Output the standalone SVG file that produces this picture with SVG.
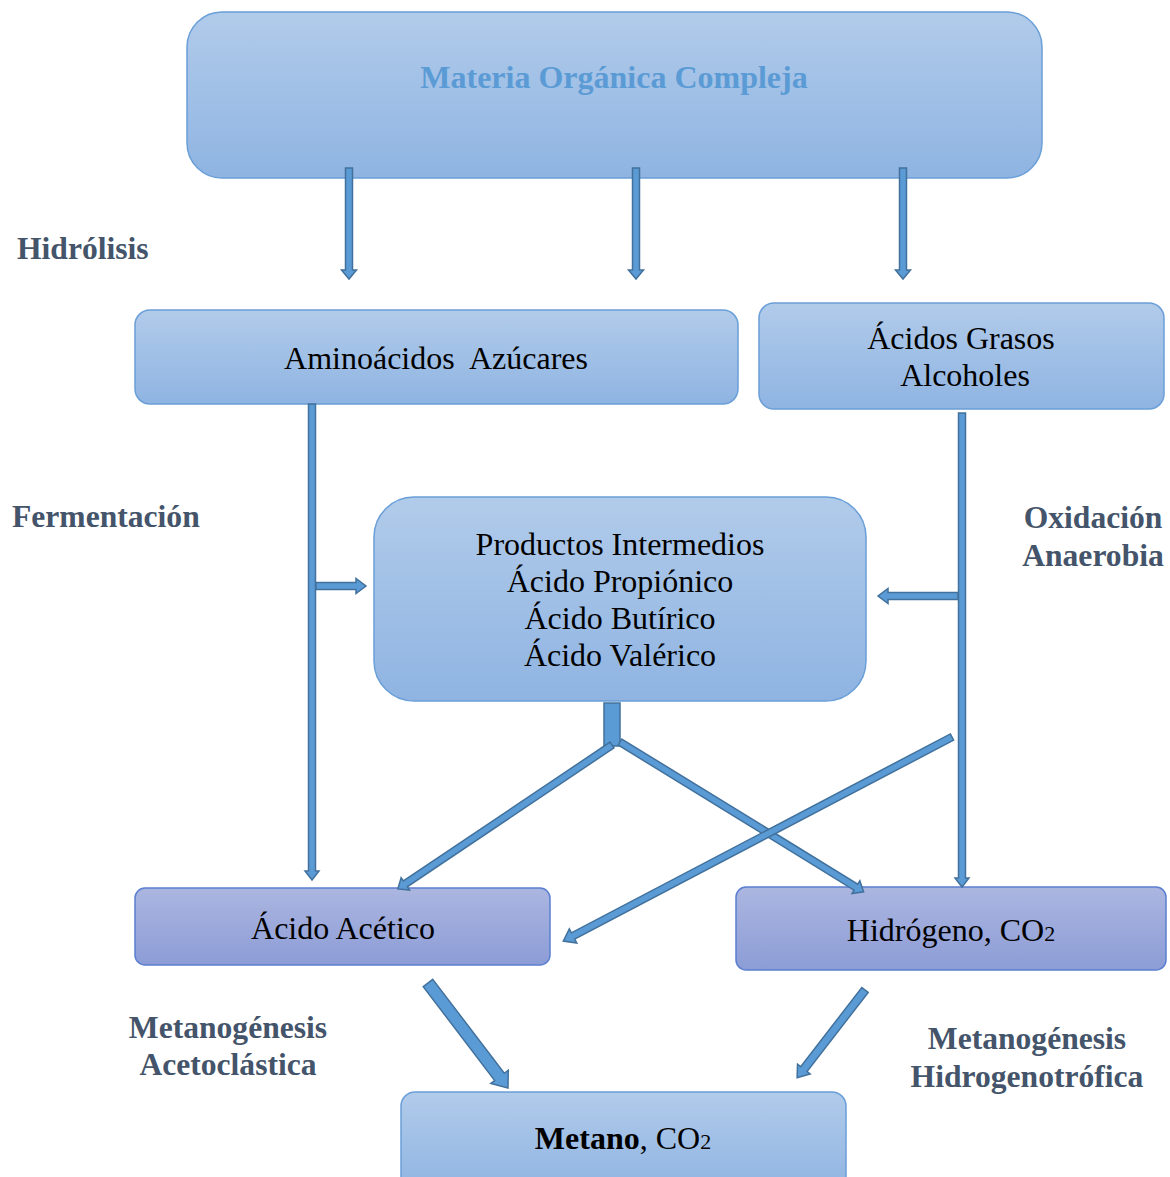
<svg xmlns="http://www.w3.org/2000/svg" width="1170" height="1177" viewBox="0 0 1170 1177">
<defs>
<linearGradient id="gb" x1="0" y1="0" x2="0" y2="1"><stop offset="0" stop-color="#B1CBEA"/><stop offset="1" stop-color="#8FB4E2"/></linearGradient>
<linearGradient id="gp" x1="0" y1="0" x2="0" y2="1"><stop offset="0" stop-color="#ABB6E0"/><stop offset="1" stop-color="#8C9CD6"/></linearGradient>
</defs>
<style>
.bx{fill:url(#gb);stroke:#6A9FD8;stroke-width:1.5}
.bp{fill:url(#gp);stroke:#5B7FD0;stroke-width:1.5}
.ar{fill:#5B9BD5;stroke:#41719C;stroke-width:1.5;stroke-linejoin:miter}
.t{font-family:"Liberation Serif",serif;font-size:32px;fill:#000;text-anchor:middle}
.lb{font-family:"Liberation Serif",serif;font-size:31.6px;font-weight:bold;fill:#44546A}
.lbc{font-family:"Liberation Serif",serif;font-size:31.6px;font-weight:bold;fill:#44546A;text-anchor:middle}
</style>
<g id="node-materia"><rect class="bx" x="187" y="12" width="855" height="166" rx="35"/>
<text x="614" y="88" style="font-family:'Liberation Serif',serif;font-size:32px;font-weight:bold;fill:#5B9BD5;text-anchor:middle">Materia Orgánica Compleja</text></g>
<g id="node-amino"><rect class="bx" x="135" y="310" width="603" height="94" rx="15"/>
<text class="t" x="436" y="369" xml:space="preserve">Aminoácidos  Azúcares</text></g>
<g id="node-acidos"><rect class="bx" x="759" y="303" width="405" height="106" rx="15"/>
<text class="t" x="961" y="349">Ácidos Grasos</text><text class="t" x="965" y="386">Alcoholes</text></g>
<g id="node-productos"><rect class="bx" x="374" y="497" width="492" height="204" rx="40"/>
<text class="t" x="620" y="555">Productos Intermedios</text>
<text class="t" x="620" y="592">Ácido Propiónico</text>
<text class="t" x="620" y="629">Ácido Butírico</text>
<text class="t" x="620" y="666">Ácido Valérico</text></g>
<g id="node-acetico"><rect class="bp" x="135" y="888" width="415" height="77" rx="10"/>
<text class="t" x="343" y="939">Ácido Acético</text></g>
<g id="node-hidrogeno"><rect class="bp" x="736" y="887" width="430" height="83" rx="10"/>
<text class="t" x="951" y="941">Hidrógeno, CO<tspan font-size="22">2</tspan></text></g>
<g id="node-metano"><rect class="bx" x="401" y="1092" width="445" height="100" rx="14"/>
<text class="t" x="623" y="1149"><tspan font-weight="bold">Metano</tspan>, CO<tspan font-size="22">2</tspan></text></g>
<g id="labels">
<text class="lb" x="17" y="259">Hidrólisis</text>
<text class="lb" x="12" y="527">Fermentación</text>
<text class="lbc" x="1093" y="528">Oxidación</text>
<text class="lbc" x="1093" y="566">Anaerobia</text>
<text class="lbc" x="228" y="1038">Metanogénesis</text>
<text class="lbc" x="228" y="1075">Acetoclástica</text>
<text class="lbc" x="1027" y="1049">Metanogénesis</text>
<text class="lbc" x="1027" y="1087">Hidrogenotrófica</text>
</g>
<g id="connectors">
<g transform="translate(349,168) rotate(90)"><polygon class="ar" points="0,-3.5 102,-3.5 102,-7.5 111,0 102,7.5 102,3.5 0,3.5"/></g>
<g transform="translate(636,168) rotate(90)"><polygon class="ar" points="0,-3.5 102,-3.5 102,-7.5 111,0 102,7.5 102,3.5 0,3.5"/></g>
<g transform="translate(903,168) rotate(90)"><polygon class="ar" points="0,-3.5 102,-3.5 102,-7.5 111,0 102,7.5 102,3.5 0,3.5"/></g>
<g transform="translate(312,404) rotate(90)"><polygon class="ar" points="0,-3.5 467,-3.5 467,-7 476,0 467,7 467,3.5 0,3.5"/></g>
<g transform="translate(962,413) rotate(90)"><polygon class="ar" points="0,-3.5 465,-3.5 465,-7 474,0 465,7 465,3.5 0,3.5"/></g>
<g transform="translate(316,586)"><polygon class="ar" points="0,-3.5 40,-3.5 40,-7.5 50,0 40,7.5 40,3.5 0,3.5"/></g>
<g transform="translate(958,596) rotate(180)"><polygon class="ar" points="0,-3.5 70,-3.5 70,-7.5 80,0 70,7.5 70,3.5 0,3.5"/></g>
<rect class="ar" x="604" y="703" width="16" height="43"/>
<g transform="translate(612,745) rotate(146.1)"><polygon class="ar" points="0,-3.5 249,-3.5 249,-7.5 258,0 249,7.5 249,3.5 0,3.5"/></g>
<g transform="translate(620,742) rotate(31.6)"><polygon class="ar" points="0,-3.5 277,-3.5 277,-7.5 286,0 277,7.5 277,3.5 0,3.5"/></g>
<g transform="translate(952,737) rotate(152.3)"><polygon class="ar" points="0,-3.5 428,-3.5 428,-8 439,0 428,8 428,3.5 0,3.5"/></g>
<g transform="translate(428,983) rotate(52.7)"><polygon class="ar" points="0,-6 118,-6 118,-11 132,0 118,11 118,6 0,6"/></g>
<g transform="translate(865,990) rotate(127.7)"><polygon class="ar" points="0,-4 100,-4 100,-8 111,0 100,8 100,4 0,4"/></g>
</g>
</svg>
